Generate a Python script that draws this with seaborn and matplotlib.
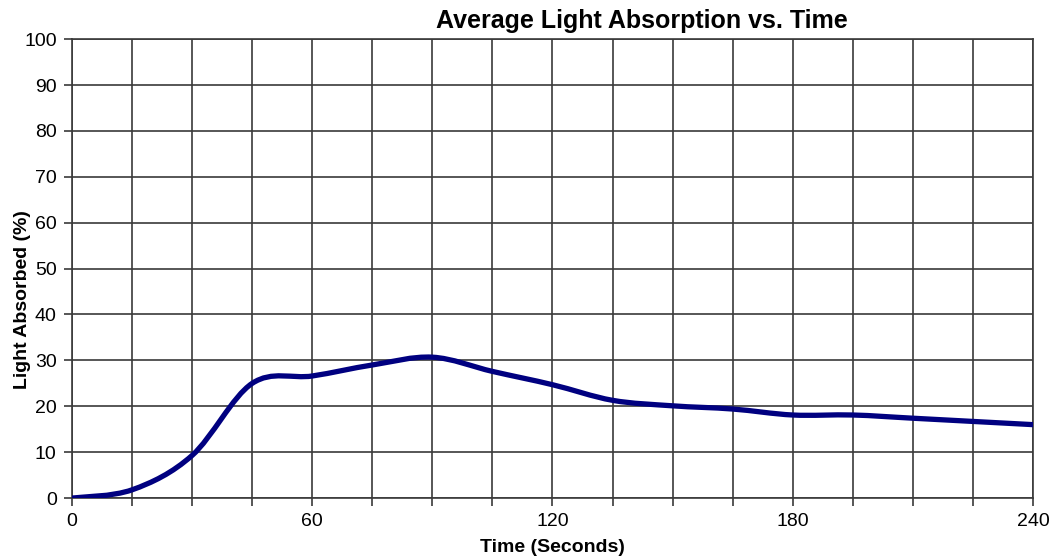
import numpy as np
import matplotlib
matplotlib.use('Agg')
import matplotlib.pyplot as plt
from matplotlib.path import Path
from matplotlib.patches import PathPatch
from matplotlib.ticker import MultipleLocator
import seaborn as sns

time_s   = [0, 15, 30, 45, 60, 75, 90, 105, 120, 135, 150, 165, 180, 195, 210, 225, 240]
absorbed = [0, 1.8, 9.3, 25.0, 26.6, 29.0, 30.7, 27.6, 24.7, 21.3, 20.1, 19.4, 18.1, 18.1, 17.4, 16.7, 16.0]
x_major  = [0, 60, 120, 180, 240]
y_major  = list(range(0, 101, 10))

sns.set_style('white')
plt.rcParams['font.family'] = ['Liberation Sans', 'DejaVu Sans']
plt.rcParams['text.color'] = 'black'
plt.rcParams['xtick.color'] = 'black'
plt.rcParams['ytick.color'] = 'black'

fig = plt.figure(figsize=(10.56, 5.59), dpi=100)
ax = fig.add_axes([0.0682, 0.109, 0.910, 0.821])

# Excel-style smoothed line: cubic Bezier segments through the data points
x = np.array(time_s, float); y = np.array(absorbed, float)
verts = [(x[0], y[0])]; codes = [Path.MOVETO]
for i in range(len(x) - 1):
    p0 = i - 1 if i > 0 else i
    p3 = i + 2 if i + 2 < len(x) else i + 1
    c1 = (x[i] + (x[i+1] - x[p0]) / 6, y[i] + (y[i+1] - y[p0]) / 6)
    c2 = (x[i+1] - (x[p3] - x[i]) / 6, y[i+1] - (y[p3] - y[i]) / 6)
    verts += [c1, c2, (x[i+1], y[i+1])]
    codes += [Path.CURVE4] * 3
ax.add_patch(PathPatch(Path(verts, codes), fill=False, edgecolor='#000080',
                       lw=3.8, capstyle='round', joinstyle='round', zorder=3))

ax.set_xlim(0, 240); ax.set_ylim(0, 100)
ax.set_xticks(x_major); ax.set_yticks(y_major)
ax.xaxis.set_minor_locator(MultipleLocator(15))
ax.grid(True, which='both', axis='x', color='#3a3a3a', lw=1.2)
ax.grid(True, which='major', axis='y', color='#3a3a3a', lw=1.2)
ax.tick_params(axis='both', which='both', direction='out', length=6, width=1.2,
               color='#3a3a3a', labelcolor='black', labelsize=14, pad=5,
               left=True, bottom=True)
for s in ax.spines.values():
    s.set_color('#3a3a3a'); s.set_linewidth(1.2)

fig.text(0.608, 0.963, 'Average Light Absorption vs. Time', ha='center', va='center',
         fontsize=18, fontweight='bold', color='black')
fig.text(0.523, 0.021, 'Time (Seconds)', ha='center', va='center',
         fontsize=14, fontweight='bold', color='black')
fig.text(0.021, 0.465, 'Light Absorbed (%)', ha='center', va='center', rotation=90,
         fontsize=14, fontweight='bold', color='black')

fig.savefig('out.png', dpi=100)
